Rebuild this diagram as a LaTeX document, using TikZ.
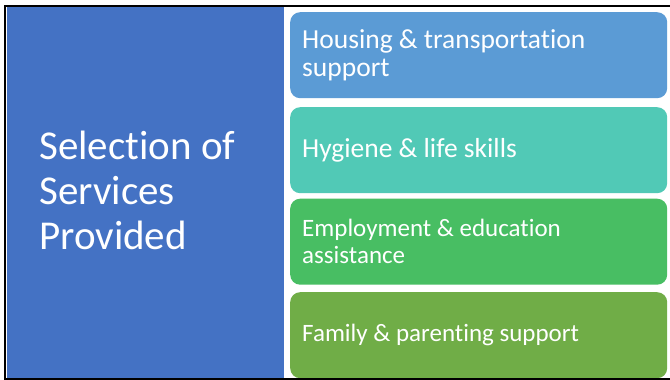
\documentclass[tikz,border=0pt]{standalone}
\usepackage{fontspec}
\setmainfont{Carlito}[Ligatures=NoCommon]
\definecolor{panelblue}{HTML}{4472C4}
\definecolor{boxA}{HTML}{5B9BD5}
\definecolor{boxB}{HTML}{51C9B6}
\definecolor{boxC}{HTML}{48BE63}
\definecolor{boxD}{HTML}{70AD47}
\tikzset{
  svcbox/.style={rounded corners=10pt, minimum width=377pt, minimum height=86pt,
    inner sep=0pt, anchor=north west},
  svctext/.style={anchor=west, align=left, text=white, inner sep=0pt,
    font=\fontsize{27.5}{28.5}\selectfont},
  frameline/.style={line width=2pt, black}
}
\begin{document}
\begin{tikzpicture}[x=1pt,y=-1pt]
\useasboundingbox (0,0) rectangle (670,380);
\fill[white] (0,0) rectangle (670,380);
\node[fill=panelblue, minimum width=277.5pt, minimum height=371pt, inner sep=0pt, anchor=north west] (panel) at (6.5,7) {};
\node[anchor=west, align=left, text=white, inner sep=0pt, font=\fontsize{41}{45}\selectfont] (title) at (39,190) {Selection of\\Services\\Provided};
\node[svcbox, fill=boxA] (b1) at (290,12) {};
\node[svcbox, fill=boxB] (b2) at (290,107) {};
\node[svcbox, fill=boxC] (b3) at (290,198.5) {};
\node[svcbox, fill=boxD] (b4) at (290,292) {};
\node[svctext] (t1) at ([xshift=12pt]b1.west) {Housing \& transportation\\support};
\node[svctext] (t2) at ([xshift=12pt]b2.west) {Hygiene \& life skills};
\node[svctext, font=\fontsize{25}{26.7}\selectfont] (t3) at ([xshift=12pt]b3.west) {Employment \& education\\assistance};
\node[svctext, font=\fontsize{25}{28.5}\selectfont] (t4) at ([xshift=12pt]b4.west) {Family \& parenting support};
\coordinate (tl) at (4.5,6);
\coordinate (tr) at (670,6);
\coordinate (bl) at (4.5,379);
\coordinate (br) at (670,379);
\draw[frameline] (tr) -- (tl) -- (bl) -- (br);
\end{tikzpicture}
\end{document}
